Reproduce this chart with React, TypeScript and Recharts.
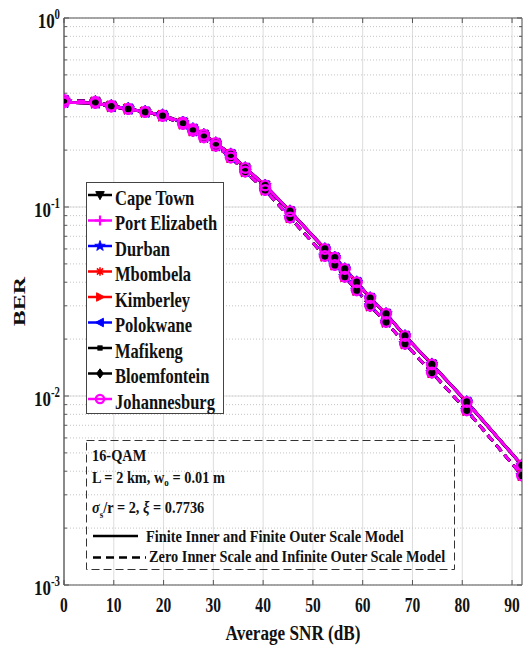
import React from "react";
import { LineChart, Line, XAxis, YAxis, CartesianGrid, ReferenceLine } from "recharts";

const SNR = [0, 6.3, 9.5, 12.9, 16.3, 19.8, 23.9, 25.9, 28.1, 30.5, 33.5, 36.4, 40.4, 45.4, 52.4, 54.4, 56.4, 58.8, 61.5, 64.7, 68.5, 73.9, 80.9, 92];
const BER_FINITE = [0.358, 0.355, 0.34, 0.33, 0.319, 0.306, 0.28, 0.259, 0.241, 0.218, 0.19, 0.161, 0.13, 0.095, 0.06, 0.054, 0.047, 0.04, 0.033, 0.0272, 0.0208, 0.0147, 0.0093, 0.0043];
const BER_ZERO = [0.368, 0.36, 0.343, 0.331, 0.318, 0.303, 0.275, 0.253, 0.234, 0.211, 0.183, 0.154, 0.123, 0.088, 0.055, 0.0494, 0.0428, 0.0363, 0.03, 0.0246, 0.0189, 0.0133, 0.0084, 0.0038];

const CITIES = ["Cape Town", "Port Elizabeth", "Durban", "Mbombela", "Kimberley", "Polokwane", "Mafikeng", "Bloemfontein", "Johannesburg"];
const CITY_COLORS = ["#000000", "#ff00ff", "#0000ff", "#ff0000", "#ff0000", "#0000ff", "#000000", "#000000", "#ff00ff"];
const CITY_MARKERS = ["down", "plus", "star", "asterisk", "right", "left", "square", "diamond", "circle"];

const X_TICKS = [0, 10, 20, 30, 40, 50, 60, 70, 80, 90];
const Y_TICKS = [
  0.001, 0.002, 0.003, 0.004, 0.005, 0.006, 0.007, 0.008, 0.009,
  0.01, 0.02, 0.03, 0.04, 0.05, 0.06, 0.07, 0.08, 0.09,
  0.1, 0.2, 0.3, 0.4, 0.5, 0.6, 0.7, 0.8, 0.9, 1,
];
const Y_DECADES = [0.01, 0.1];

const data = SNR.map((snr, i) => ({ snr, fin: BER_FINITE[i], zero: BER_ZERO[i] }));

const SERIF = "'Liberation Serif', 'Times New Roman', serif";
const AXIS = "#8a8a8a";
const TICK = "#555";

function Marker({ shape, cx, cy, color, s = 1 }: { shape: string; cx: number; cy: number; color: string; s?: number }) {
  switch (shape) {
    case "down":
      return <polygon points={`${cx - 5 * s},${cy - 4 * s} ${cx + 5 * s},${cy - 4 * s} ${cx},${cy + 5.5 * s}`} fill={color} stroke={color} strokeWidth={1} />;
    case "plus":
      return <path d={`M${cx - 6 * s},${cy}H${cx + 6 * s}M${cx},${cy - 6 * s}V${cy + 6 * s}`} stroke={color} strokeWidth={2.2} />;
    case "star": {
      const pts = [];
      for (let k = 0; k < 10; k++) {
        const r = (k % 2 === 0 ? 6.5 : 2.7) * s;
        const a = -Math.PI / 2 + (k * Math.PI) / 5;
        pts.push(`${cx + r * Math.cos(a)},${cy + r * Math.sin(a)}`);
      }
      return <polygon points={pts.join(" ")} fill={color} stroke={color} strokeWidth={0.8} />;
    }
    case "asterisk":
      return (
        <path
          d={`M${cx - 5 * s},${cy}H${cx + 5 * s}M${cx},${cy - 5 * s}V${cy + 5 * s}M${cx - 3.6 * s},${cy - 3.6 * s}L${cx + 3.6 * s},${cy + 3.6 * s}M${cx - 3.6 * s},${cy + 3.6 * s}L${cx + 3.6 * s},${cy - 3.6 * s}`}
          stroke={color}
          strokeWidth={1.6}
        />
      );
    case "right":
      return <polygon points={`${cx - 4 * s},${cy - 5 * s} ${cx - 4 * s},${cy + 5 * s} ${cx + 5.5 * s},${cy}`} fill={color} stroke={color} strokeWidth={1} />;
    case "left":
      return <polygon points={`${cx + 4 * s},${cy - 5 * s} ${cx + 4 * s},${cy + 5 * s} ${cx - 5.5 * s},${cy}`} fill={color} stroke={color} strokeWidth={1} />;
    case "square":
      return <rect x={cx - 2.5 * s} y={cy - 2.5 * s} width={5 * s} height={5 * s} fill={color} stroke={color} />;
    case "diamond":
      return <polygon points={`${cx},${cy - 5.5 * s} ${cx + 4 * s},${cy} ${cx},${cy + 5.5 * s} ${cx - 4 * s},${cy}`} fill={color} stroke={color} strokeWidth={1} />;
    default:
      return <circle cx={cx} cy={cy} r={4.8 * s} fill="none" stroke={color} strokeWidth={2.4} />;
  }
}

const isDecade = (v: number) => {
  const lg = Math.log10(v);
  return Math.abs(lg - Math.round(lg)) < 1e-6;
};

const LeftTick = ({ x, y, payload }: any) => {
  const v = payload.value;
  const major = isDecade(v);
  return (
    <g>
      <line x1={x} x2={x + (major ? 5 : 3)} y1={y} y2={y} stroke={TICK} />
      {major && (
        <text transform={`translate(${x - 4},${y + 10}) scale(0.77,1)`} textAnchor="end" fontFamily={SERIF} fontWeight="bold" fontSize={22} fill="#111">
          <tspan>10</tspan>
          <tspan dy={-9} fontSize={14}>{Math.round(Math.log10(v))}</tspan>
        </text>
      )}
    </g>
  );
};

const RightTick = ({ x, y, payload }: any) => (
  <line x1={x} x2={x - (isDecade(payload.value) ? 5 : 3)} y1={y} y2={y} stroke={TICK} />
);

const BottomTick = ({ x, y, payload }: any) => (
  <g>
    <line x1={x} x2={x} y1={y} y2={y - 5} stroke={TICK} />
    <text transform={`translate(${x},${y + 27}) scale(0.74,1)`} textAnchor="middle" fontFamily={SERIF} fontWeight="bold" fontSize={21} fill="#111">
      {payload.value}
    </text>
  </g>
);

const TopTick = ({ x, y }: any) => <line x1={x} x2={x} y1={y} y2={y + 5} stroke={TICK} />;

const XTitle = ({ viewBox }: any) => (
  <text transform={`translate(${viewBox.x + viewBox.width / 2},${viewBox.y + 55}) scale(0.78,1)`} textAnchor="middle" fontFamily={SERIF} fontWeight="bold" fontSize={22} fill="#111">
    Average SNR (dB)
  </text>
);

const YTitle = ({ viewBox }: any) => (
  <text transform={`translate(${viewBox.x + 25},${viewBox.y + viewBox.height / 2}) rotate(-90) scale(1,0.72)`} textAnchor="middle" fontFamily={SERIF} fontWeight="bold" fontSize={24} fill="#111">
    BER
  </text>
);

function Overlay() {
  const textStyle = { fontFamily: SERIF, fontWeight: "bold" as const, fill: "#111" };
  return (
    <svg width={529} height={646} style={{ position: "absolute", left: 0, top: 0, pointerEvents: "none" }}>
      <rect x={86.5} y={182.5} width={137} height={231} fill="#fff" stroke="#444" strokeWidth={1} />
      {CITIES.map((name, i) => {
        const cy = 195 + 25.5 * i;
        return (
          <g key={name}>
            <line x1={88} x2={112} y1={cy} y2={cy} stroke={CITY_COLORS[i]} strokeWidth={2.5} />
            <Marker shape={CITY_MARKERS[i]} cx={100} cy={cy} color={CITY_COLORS[i]} s={0.85} />
            <text transform={`translate(115,${cy + 9.5}) scale(0.75,1)`} fontSize={22} {...textStyle}>
              {name}
            </text>
          </g>
        );
      })}
      <rect x={86.5} y={440.5} width={368} height={129} fill="none" stroke="#333" strokeWidth={1} strokeDasharray="8 4" />
      <g fontSize={17.5} {...textStyle}>
        <text transform="translate(92,461) scale(0.82,1)">16-QAM</text>
        <text transform="translate(92,483) scale(0.82,1)">
          L = 2 km, w<tspan fontSize={11} dy={3}>o</tspan>
          <tspan dy={-3}> = 0.01 m</tspan>
        </text>
        <text transform="translate(92,513) scale(0.82,1)">
          <tspan fontStyle="italic">σ</tspan>
          <tspan fontSize={11} dy={5}>s</tspan>
          <tspan dy={-5}>/r = 2, </tspan>
          <tspan fontStyle="italic">ξ</tspan>
          <tspan> = 0.7736</tspan>
        </text>
        <text transform="translate(146,542) scale(0.82,1)">Finite Inner and Finite Outer Scale Model</text>
        <text transform="translate(149,562) scale(0.82,1)">Zero Inner Scale and Infinite Outer Scale Model</text>
      </g>
      <line x1={93} x2={138} y1={536} y2={536} stroke="#000" strokeWidth={2.5} />
      <line x1={93} x2={146} y1={557.5} y2={557.5} stroke="#000" strokeWidth={2.5} strokeDasharray="8 5" />
    </svg>
  );
}

export default function App() {
  const series: React.ReactNode[] = [];
  CITIES.forEach((name, i) => {
    (["fin", "zero"] as const).forEach((key) => {
      series.push(
        <Line
          key={`${name}-${key}`}
          dataKey={key}
          name={`${name} ${key}`}
          type="linear"
          stroke={CITY_COLORS[i]}
          strokeWidth={2.8}
          strokeDasharray={key === "zero" ? "8 5" : undefined}
          isAnimationActive={false}
          legendType="none"
          dot={(p: any) => <Marker key={`${name}-${key}-${p.index}`} shape={CITY_MARKERS[i]} cx={p.cx} cy={p.cy} color={CITY_COLORS[i]} />}
          activeDot={false}
        />
      );
    });
  });

  return (
    <div style={{ position: "absolute", left: 0, top: 0, width: 529, height: 646, background: "#fff" }}>
      <LineChart width={529} height={646} data={data} margin={{ top: 0, right: 0, bottom: 0, left: 0 }}>
        <CartesianGrid horizontal={false} stroke="#dcdcdc" />
        <CartesianGrid vertical={false} stroke="#c4c4c4" strokeDasharray="1 2" />
        {Y_DECADES.map((v) => (
          <ReferenceLine key={v} y={v} stroke="#dcdcdc" />
        ))}
        <XAxis
          dataKey="snr"
          type="number"
          domain={[0, 92]}
          ticks={X_TICKS}
          interval={0}
          allowDataOverflow
          height={61}
          tickSize={0}
          tickMargin={0}
          tick={BottomTick}
          tickLine={false}
          axisLine={{ stroke: AXIS, strokeWidth: 1.5 }}
          label={<XTitle />}
        />
        <XAxis
          xAxisId="top"
          orientation="top"
          dataKey="snr"
          type="number"
          domain={[0, 92]}
          ticks={X_TICKS}
          interval={0}
          allowDataOverflow
          height={18}
          tickSize={0}
          tickMargin={0}
          tick={TopTick}
          tickLine={false}
          axisLine={{ stroke: AXIS, strokeWidth: 1.5 }}
        />
        <YAxis
          type="number"
          scale="log"
          domain={[0.001, 1]}
          ticks={Y_TICKS}
          interval={0}
          allowDataOverflow
          width={64}
          tickSize={0}
          tickMargin={0}
          tick={LeftTick}
          tickLine={false}
          axisLine={{ stroke: AXIS, strokeWidth: 2 }}
          label={<YTitle />}
        />
        <YAxis
          yAxisId="right"
          orientation="right"
          type="number"
          scale="log"
          domain={[0.001, 1]}
          ticks={Y_TICKS}
          interval={0}
          allowDataOverflow
          width={7}
          tickSize={0}
          tickMargin={0}
          tick={RightTick}
          tickLine={false}
          axisLine={{ stroke: AXIS, strokeWidth: 1.5 }}
        />
        {series}
      </LineChart>
      <Overlay />
    </div>
  );
}
